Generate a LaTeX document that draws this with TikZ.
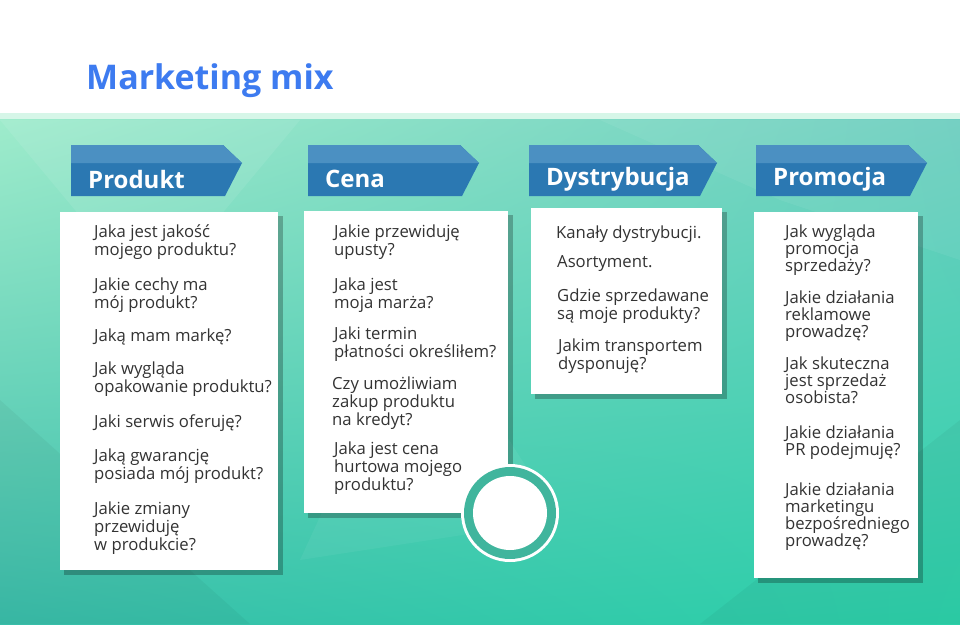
\documentclass[tikz,border=0pt]{standalone}
\usepackage{fontspec}
\setmainfont{Open Sans}
\usetikzlibrary{shadings}
\definecolor{titleblue}{HTML}{3D7BF0}
\definecolor{bandlight}{HTML}{4B90C2}
\definecolor{banddark}{HTML}{2B78B2}
\definecolor{txt}{HTML}{333333}
\definecolor{ring}{HTML}{40B59D}
\definecolor{bgul}{HTML}{A0ECCC}
\definecolor{bgur}{HTML}{6ECEC0}
\definecolor{bgll}{HTML}{3ABEAA}
\definecolor{bglr}{HTML}{2CD2AA}
\definecolor{thinband}{HTML}{D6F6E8}
\begin{document}
\begin{tikzpicture}[x=1pt,y=-1pt,
  q/.style={anchor=north west,inner sep=0pt,align=left,text=txt,font=\fontsize{16.7}{18}\selectfont},
  qt/.style={q,font=\fontsize{16.7}{17}\selectfont},
  bt/.style={anchor=west,inner sep=0pt,text=white,font=\fontsize{24}{26}\bfseries\selectfont},
  card/.style={fill=white},
  shadowc/.style={fill=black,opacity=0.25}]
\useasboundingbox (0,0) rectangle (960,624);
\fill[white] (0,0) rectangle (960,113);
\shade[upper left=bgul,upper right=bgur,lower left=bgll,lower right=bglr] (0,113) rectangle (960,624);
\fill[white,opacity=0.08] (0,120) -- (300,120) -- (150,300) -- cycle;
\fill[white,opacity=0.06] (600,120) -- (960,120) -- (960,260) -- (780,200) -- cycle;
\fill[black,opacity=0.04] (0,400) -- (250,624) -- (0,624) -- cycle;
\fill[black,opacity=0.04] (700,624) -- (960,420) -- (960,624) -- cycle;
\fill[white,opacity=0.05] (420,300) -- (560,520) -- (300,560) -- cycle;
\fill[thinband] (0,113) rectangle (960,119);
\node[anchor=west,inner sep=0pt,text=titleblue,font=\fontsize{34}{36}\bfseries\selectfont] (title) at (86,81) {Marketing mix};
% banners
\foreach \x/\w/\n/\t in {71/171/b1/Produkt,308/171/b2/Cena,529/188/b3/Dystrybucja,756/171/b4/Promocja}{
  \fill[banddark] (\x,145) -- ({\x+\w-19},145) -- ({\x+\w},163) -- ({\x+\w-17},196) -- (\x,196) -- cycle;
  \fill[bandlight] (\x,145) -- ({\x+\w-19},145) -- ({\x+\w},163) -- (\x,163) -- cycle;
  \node[bt] (\n) at ({\x+17},179) {\t};
}
% cards
\fill[shadowc] (64,216) rectangle (283,575);
\fill[card] (60,212) rectangle (278,570);
\fill[shadowc] (308,215) rectangle (513,518);
\fill[card] (304,211) rectangle (508,513);
\fill[shadowc] (535,212) rectangle (727,399);
\fill[card] (531,208) rectangle (722,394);
\fill[shadowc] (758,216) rectangle (923,583);
\fill[card] (754,212) rectangle (918,578);
% circle
\fill[white] (510,513) circle (49);
\fill[ring] (510,513) circle (46);
\fill[white] (510,513) circle (37);
\node[draw=none,inner sep=0pt] (circ) at (510,513) {};
% Produkt
\node[q] (p1) at (94,225) {Jaka jest jakość\\mojego produktu?};
\node[q] (p2) at (94,278) {Jakie cechy ma\\mój produkt?};
\node[q] (p3) at (94,329) {Jaką mam markę?};
\node[q] (p4) at (94,362) {Jak wygląda\\opakowanie produktu?};
\node[q] (p5) at (94,415) {Jaki serwis oferuję?};
\node[q] (p6) at (94,449) {Jaką gwarancję\\posiada mój produkt?};
\node[q] (p7) at (94,502) {Jakie zmiany\\przewiduję\\w produkcie?};
% Cena
\node[q] (c1) at (334,225) {Jakie przewiduję\\upusty?};
\node[q] (c2) at (334,278) {Jaka jest\\moja marża?};
\node[q] (c3) at (334,327) {Jaki termin\\płatności określiłem?};
\node[q] (c4) at (332,377) {Czy umożliwiam\\zakup produktu\\na kredyt?};
\node[q] (c5) at (334,442) {Jaka jest cena\\hurtowa mojego\\produktu?};
% Dystrybucja
\node[q] (d1) at (556,226) {Kanały dystrybucji.};
\node[q] (d2) at (557,255) {Asortyment.};
\node[q] (d3) at (557,289) {Gdzie sprzedawane\\są moje produkty?};
\node[q] (d4) at (558,339) {Jakim transportem\\dysponuję?};
% Promocja
\node[qt] (m1) at (785,225) {Jak wygląda\\promocja\\sprzedaży?};
\node[qt] (m2) at (785,291) {Jakie działania\\reklamowe\\prowadzę?};
\node[qt] (m3) at (785,357) {Jak skuteczna\\jest sprzedaż\\osobista?};
\node[qt] (m4) at (785,426) {Jakie działania\\PR podejmuję?};
\node[qt] (m5) at (785,483) {Jakie działania\\marketingu\\bezpośredniego\\prowadzę?};
\end{tikzpicture}
\end{document}
